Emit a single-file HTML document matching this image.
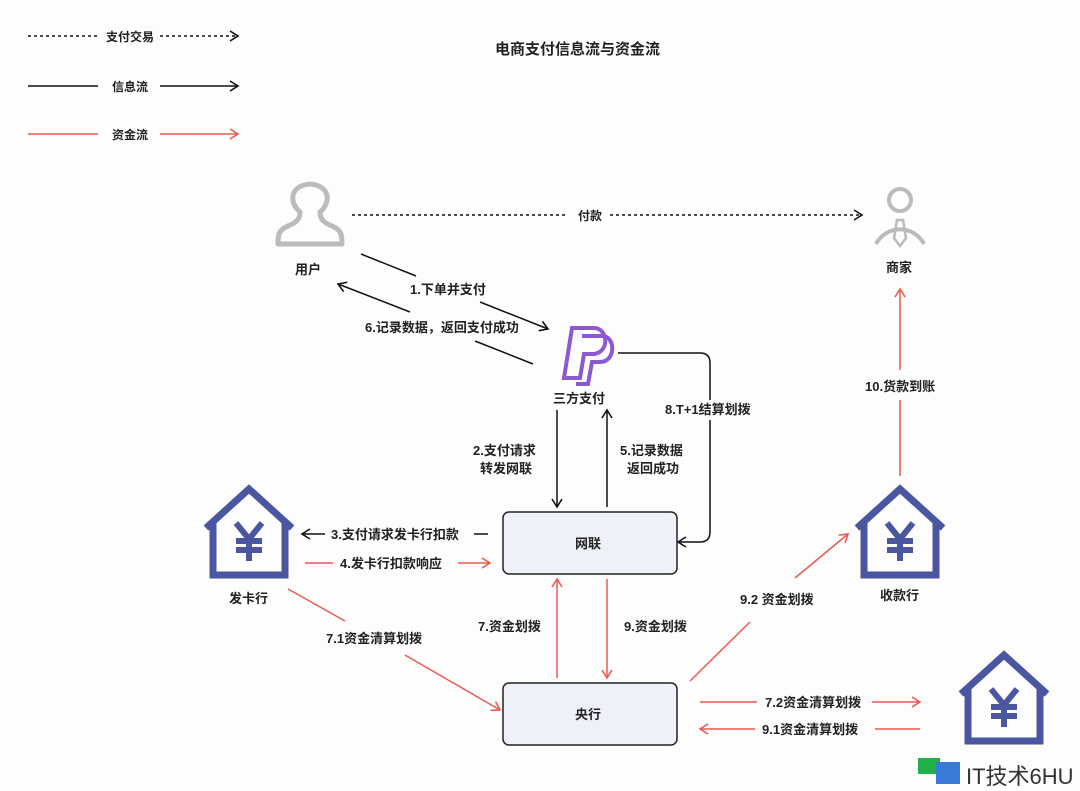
<!DOCTYPE html>
<html><head><meta charset="utf-8"><style>
body{margin:0;background:#fdfdfd;}
svg{display:block;font-family:"Liberation Sans","Noto Sans CJK SC",sans-serif;}
text{font-weight:bold;font-size:13px;fill:#222;}
</style></head><body>
<svg width="1080" height="791" viewBox="0 0 1080 791">
<defs>
<marker id="ab" markerWidth="12" markerHeight="12" refX="10" refY="6" orient="auto" markerUnits="userSpaceOnUse"><path d="M2,1 L10,6 L2,11" fill="none" stroke="#111" stroke-width="1.6"/></marker>
<marker id="ar" markerWidth="12" markerHeight="12" refX="10" refY="6" orient="auto" markerUnits="userSpaceOnUse"><path d="M2,1 L10,6 L2,11" fill="none" stroke="#e85a50" stroke-width="1.6"/></marker>
<g id="bank"><path d="M-43,39 L0,0 L43,39" fill="none" stroke="#4a56a0" stroke-width="7"/><path d="M-36,33 V86 H36 V33" fill="none" stroke="#4a56a0" stroke-width="7"/>
<path d="M-13,34 L0,50 L13,34 M0,50 V72 M-13,52 H13 M-13,61 H13" fill="none" stroke="#4a56a0" stroke-width="6"/></g>
</defs>
<!-- legend -->
<line x1="28" y1="36" x2="98" y2="36" stroke="#111" stroke-width="1.5" stroke-dasharray="3,3"/>
<text x="106" y="41" style="font-size:12px">支付交易</text>
<line x1="160" y1="36" x2="238" y2="36" stroke="#111" stroke-width="1.5" stroke-dasharray="3,3" marker-end="url(#ab)"/>
<line x1="28" y1="86" x2="98" y2="86" stroke="#111" stroke-width="1.5"/>
<text x="112" y="91" style="font-size:12px">信息流</text>
<line x1="160" y1="86" x2="238" y2="86" stroke="#111" stroke-width="1.5" marker-end="url(#ab)"/>
<line x1="28" y1="134" x2="98" y2="134" stroke="#e85a50" stroke-width="1.5"/>
<text x="112" y="139" style="font-size:12px">资金流</text>
<line x1="160" y1="134" x2="238" y2="134" stroke="#e85a50" stroke-width="1.5" marker-end="url(#ar)"/>
<text x="495" y="54" style="font-size:15px">电商支付信息流与资金流</text>
<!-- user -->
<path d="M300,212 C290,204 288,186 310,184 C332,186 330,204 320,212 C320,218 322,222 332,226 C342,230 342,236 342,244 L278,244 C278,236 278,230 288,226 C298,222 300,218 300,212 Z" fill="none" stroke="#bbb" stroke-width="5" stroke-linejoin="round"/>
<text x="295" y="274">用户</text>
<!-- merchant -->
<circle cx="900" cy="200" r="11" fill="none" stroke="#bbb" stroke-width="4"/>
<path d="M876,244 A27,27 0 0 1 924,244" fill="none" stroke="#bbb" stroke-width="4"/>
<path d="M897,220 L903,220 L906,238 L900,246 L894,238 Z" fill="none" stroke="#bbb" stroke-width="2.5"/>
<text x="886" y="272">商家</text>
<line x1="352" y1="215" x2="565" y2="215" stroke="#111" stroke-width="1.5" stroke-dasharray="3,3"/>
<text x="578" y="220" style="font-size:12px">付款</text>
<line x1="610" y1="215" x2="862" y2="215" stroke="#111" stroke-width="1.5" stroke-dasharray="3,3" marker-end="url(#ab)"/>
<!-- user <-> paypal -->
<line x1="361" y1="254" x2="416" y2="276" stroke="#111" stroke-width="1.5"/>
<line x1="480" y1="302" x2="548" y2="329" stroke="#111" stroke-width="1.5" marker-end="url(#ab)"/>
<text x="410" y="294">1.下单并支付</text>
<line x1="410" y1="312" x2="338" y2="284" stroke="#111" stroke-width="1.5" marker-end="url(#ab)"/>
<text x="365" y="332">6.记录数据，返回支付成功</text>
<line x1="475" y1="341" x2="533" y2="364" stroke="#111" stroke-width="1.5"/>
<!-- paypal logo -->
<path d="M572,328 L594,328 C608,328 610,352 594,354 L584,354 L580,378 L564,378 Z" fill="none" stroke="#8a5ad0" stroke-width="4"/>
<path d="M582,336 L602,336 C616,336 616,362 600,362 L592,362 L588,384 L576,384" fill="none" stroke="#8a5ad0" stroke-width="4"/>
<text x="553" y="403">三方支付</text>
<!-- 8 -->
<path d="M618,353 H700 Q710,353 710,363 V532 Q710,542 700,542 H678" fill="none" stroke="#111" stroke-width="1.5" marker-end="url(#ab)"/>
<rect x="662" y="400" width="96" height="20" fill="#fdfdfd"/>
<text x="665" y="414">8.T+1结算划拨</text>
<!-- 2 and 5 -->
<line x1="557" y1="410" x2="557" y2="507" stroke="#111" stroke-width="1.5" marker-end="url(#ab)"/>
<text x="473" y="455">2.支付请求</text><text x="480" y="473">转发网联</text>
<line x1="607" y1="507" x2="607" y2="410" stroke="#111" stroke-width="1.5" marker-end="url(#ab)"/>
<text x="620" y="455">5.记录数据</text><text x="627" y="473">返回成功</text>
<!-- boxes -->
<rect x="503" y="512" width="174" height="62" rx="6" fill="#eef1f8" stroke="#222" stroke-width="1.5"/>
<text x="575" y="548">网联</text>
<rect x="503" y="683" width="174" height="62" rx="6" fill="#eef1f8" stroke="#222" stroke-width="1.5"/>
<text x="575" y="719">央行</text>
<!-- banks -->
<use href="#bank" x="249" y="489"/>
<text x="229" y="603">发卡行</text>
<use href="#bank" x="900" y="489"/>
<text x="880" y="600">收款行</text>
<use href="#bank" x="1004" y="655"/>
<text x="958" y="786">三方备付金银行</text>
<!-- 3,4 -->
<line x1="325" y1="534" x2="302" y2="534" stroke="#111" stroke-width="1.5" marker-end="url(#ab)"/>
<text x="331" y="539">3.支付请求发卡行扣款</text>
<line x1="474" y1="534" x2="488" y2="534" stroke="#111" stroke-width="1.5"/>
<line x1="305" y1="563" x2="333" y2="563" stroke="#e85a50" stroke-width="1.5"/>
<text x="340" y="568">4.发卡行扣款响应</text>
<line x1="458" y1="563" x2="490" y2="563" stroke="#e85a50" stroke-width="1.5" marker-end="url(#ar)"/>
<!-- 7.1 -->
<line x1="288" y1="589" x2="345" y2="621" stroke="#e85a50" stroke-width="1.5"/>
<text x="326" y="643">7.1资金清算划拨</text>
<line x1="405" y1="655" x2="500" y2="710" stroke="#e85a50" stroke-width="1.5" marker-end="url(#ar)"/>
<!-- 7, 9 -->
<line x1="557" y1="678" x2="557" y2="579" stroke="#e85a50" stroke-width="1.5" marker-end="url(#ar)"/>
<text x="478" y="631">7.资金划拨</text>
<line x1="607" y1="579" x2="607" y2="678" stroke="#e85a50" stroke-width="1.5" marker-end="url(#ar)"/>
<text x="624" y="631">9.资金划拨</text>
<!-- 9.2 -->
<line x1="690" y1="681" x2="750" y2="622" stroke="#e85a50" stroke-width="1.5"/>
<text x="740" y="604">9.2 资金划拨</text>
<line x1="795" y1="578" x2="848" y2="534" stroke="#e85a50" stroke-width="1.5" marker-end="url(#ar)"/>
<!-- 10 -->
<line x1="900" y1="476" x2="900" y2="400" stroke="#e85a50" stroke-width="1.5"/>
<text x="865" y="391">10.货款到账</text>
<line x1="900" y1="370" x2="900" y2="289" stroke="#e85a50" stroke-width="1.5" marker-end="url(#ar)"/>
<!-- 7.2 / 9.1 -->
<line x1="700" y1="702" x2="757" y2="702" stroke="#e85a50" stroke-width="1.5"/>
<text x="765" y="707">7.2资金清算划拨</text>
<line x1="872" y1="702" x2="920" y2="702" stroke="#e85a50" stroke-width="1.5" marker-end="url(#ar)"/>
<line x1="755" y1="729" x2="700" y2="729" stroke="#e85a50" stroke-width="1.5" marker-end="url(#ar)"/>
<text x="762" y="734">9.1资金清算划拨</text>
<line x1="875" y1="729" x2="920" y2="729" stroke="#e85a50" stroke-width="1.5"/>
<!-- watermark -->
<rect x="912" y="756" width="168" height="35" fill="#fdfdfd"/>
<rect x="918" y="758" width="22" height="16" fill="#22b04a"/>
<rect x="936" y="762" width="24" height="22" fill="#3a7ad8"/>
<text x="966" y="784" style="font-size:22px;font-weight:normal;fill:#333">IT技术6HU</text>
</svg>
</body></html>
